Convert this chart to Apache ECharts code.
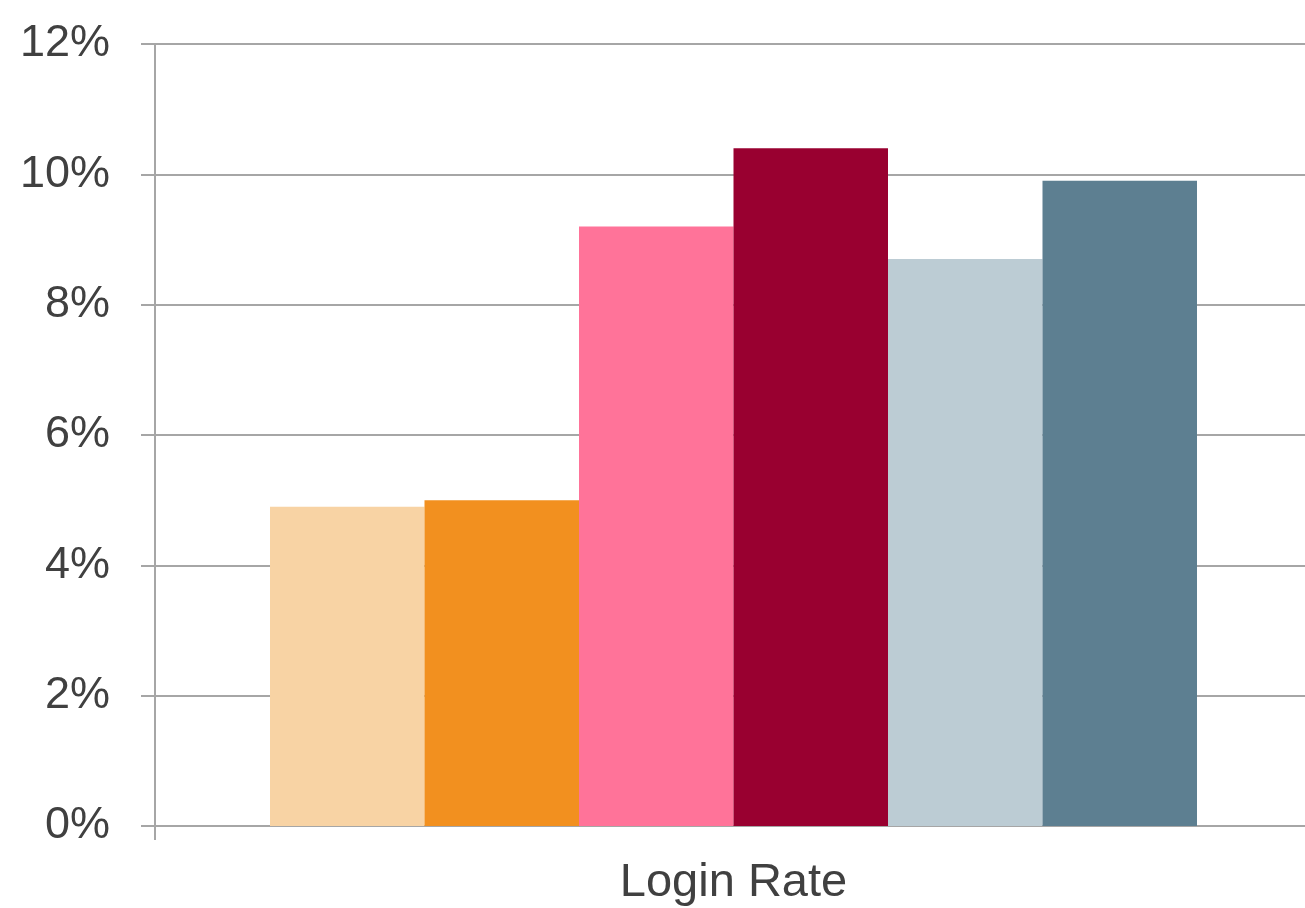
<!DOCTYPE html>
<html>
<head>
<meta charset="utf-8">
<script src="https://cdn.jsdelivr.net/npm/echarts@6/dist/echarts.min.js"></script>
<style>html,body{margin:0;padding:0;background:#fff;overflow:hidden;width:1305px;height:908px}#c{width:1312px;height:908px}</style>
</head>
<body>
<div id="c"></div>
<script>
const categories = ['Login Rate'];
const seriesNames = ['S1', 'S2', 'S3', 'S4', 'S5', 'S6'];
const seriesValues = [4.9, 5.0, 9.2, 10.4, 8.7, 9.9];
const seriesColors = ['#F8D3A4', '#F2901F', '#FF7399', '#990030', '#BCCCD4', '#5D7F91'];
const yTicks = [0, 2, 4, 6, 8, 10, 12];

const chart = echarts.init(document.getElementById('c'));
const axisColor = '#a6a6a6';
chart.setOption({
  animation: false,
  grid: { left: 155, right: 0, top: 44, bottom: 82, containLabel: false },
  xAxis: {
    type: 'category',
    data: categories,
    axisLine: { lineStyle: { color: axisColor, width: 2 } },
    axisTick: { show: true, length: 14, lineStyle: { color: axisColor, width: 2 } },
    axisLabel: { fontFamily: 'Liberation Sans, Arial, sans-serif', fontSize: 47, color: '#404040', margin: 34 }
  },
  yAxis: {
    type: 'value',
    min: yTicks[0],
    max: yTicks[yTicks.length - 1],
    interval: 2,
    axisLine: { show: true, lineStyle: { color: axisColor, width: 2 } },
    axisTick: { show: true, length: 14, lineStyle: { color: axisColor, width: 2 } },
    axisLabel: { fontFamily: 'Liberation Sans, Arial, sans-serif', fontSize: 45, color: '#404040', margin: 45, formatter: v => v + '%' },
    splitLine: { show: true, lineStyle: { color: axisColor, width: 2 } }
  },
  series: seriesNames.map((n, i) => ({
    name: n,
    type: 'bar',
    data: [seriesValues[i]],
    barWidth: 154.5,
    barGap: '0%',
    itemStyle: { color: seriesColors[i] }
  }))
});
</script>
</body>
</html>
